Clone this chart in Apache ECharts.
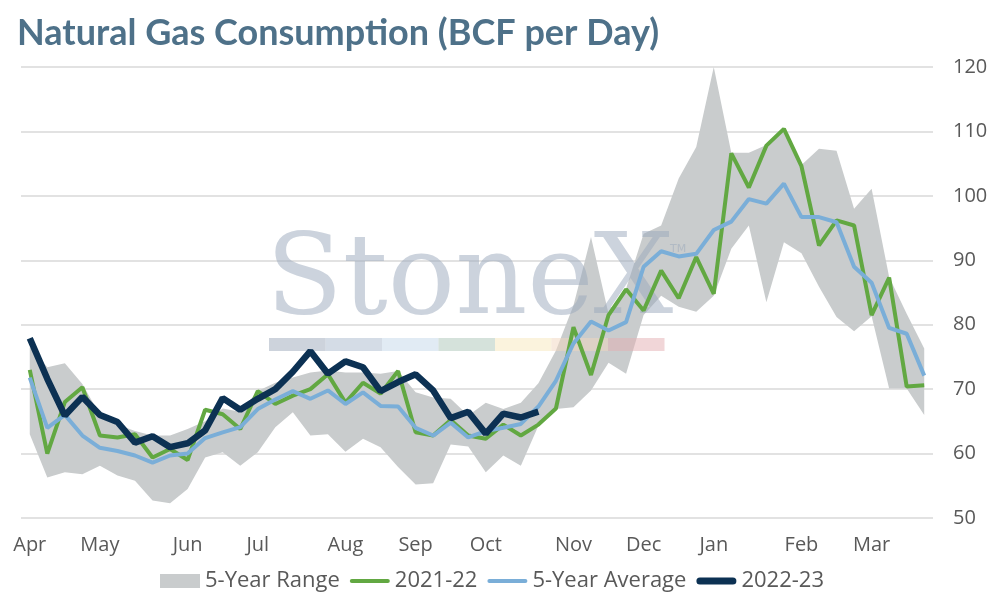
<!DOCTYPE html>
<html>
<head>
<meta charset="utf-8">
<title>Natural Gas Consumption</title>
<script src="https://cdn.jsdelivr.net/npm/echarts@6/dist/echarts.min.js"></script>
<style>
  html, body { margin: 0; padding: 0; background: #fff; }
  #chart { width: 994px; height: 600px; }
</style>
</head>
<body>
<div id="chart"></div>
<script>
// week ending dates, Apr 2022 - Mar 2023
const weeks = [
  '2022-04-03', '2022-04-10', '2022-04-17', '2022-04-24',
  '2022-05-01', '2022-05-08', '2022-05-15', '2022-05-22', '2022-05-29',
  '2022-06-05', '2022-06-12', '2022-06-19', '2022-06-26',
  '2022-07-03', '2022-07-10', '2022-07-17', '2022-07-24', '2022-07-31',
  '2022-08-07', '2022-08-14', '2022-08-21', '2022-08-28',
  '2022-09-04', '2022-09-11', '2022-09-18', '2022-09-25',
  '2022-10-02', '2022-10-09', '2022-10-16', '2022-10-23', '2022-10-30',
  '2022-11-06', '2022-11-13', '2022-11-20', '2022-11-27',
  '2022-12-04', '2022-12-11', '2022-12-18', '2022-12-25',
  '2023-01-01', '2023-01-08', '2023-01-15', '2023-01-22', '2023-01-29',
  '2023-02-05', '2023-02-12', '2023-02-19', '2023-02-26',
  '2023-03-05', '2023-03-12', '2023-03-19', '2023-03-26'
];
const monthNames = ['Jan', 'Feb', 'Mar', 'Apr', 'May', 'Jun', 'Jul', 'Aug', 'Sep', 'Oct', 'Nov', 'Dec'];

const rangeLow = [
  63.0, 56.3, 57.1, 56.8, 58.1, 56.6, 55.8, 52.7, 52.3, 54.5,
  59.4, 60.2, 58.1, 60.2, 64.1, 66.4, 62.8, 63.0, 60.3, 62.3,
  61.0, 57.9, 55.2, 55.4, 61.4, 61.1, 57.1, 59.7, 58.1, 64.3,
  66.9, 67.2, 69.8, 74.1, 72.4, 81.5, 84.5, 82.8, 82.0, 84.5,
  91.8, 95.4, 83.5, 92.8, 91.1, 85.9, 81.2, 79.0, 81.3, 70.1,
  70.1, 66.0
];
const rangeHigh = [
  76.5, 73.4, 74.0, 70.8, 66.0, 64.5, 63.5, 62.8, 62.8, 63.8,
  65.0, 67.0, 66.5, 69.7, 71.0, 71.8, 72.6, 72.9, 72.6, 72.6,
  72.4, 72.8, 69.5, 68.7, 68.5, 65.9, 67.9, 66.9, 67.9, 70.9,
  76.0, 83.0, 93.6, 81.7, 85.6, 94.1, 95.4, 102.7, 107.6, 120.0,
  106.7, 106.7, 107.9, 110.4, 104.8, 107.3, 107.0, 98.0, 101.1, 87.4,
  81.7, 76.3
];
const use2122 = [
  73.0, 60.0, 68.0, 70.3, 62.8, 62.5, 63.0, 59.4, 60.7, 59.0,
  66.8, 66.1, 63.8, 69.7, 67.7, 69.0, 70.0, 72.3, 67.9, 71.0,
  69.3, 72.8, 63.3, 62.8, 65.2, 62.8, 62.3, 64.5, 62.8, 64.5,
  67.0, 79.6, 72.2, 81.5, 85.5, 82.2, 88.4, 84.1, 90.5, 84.8,
  106.6, 101.3, 107.8, 110.4, 104.6, 92.3, 96.2, 95.4, 81.5, 87.3,
  70.4, 70.6
];
const avg5yr = [
  71.8, 64.0, 66.0, 62.8, 60.9, 60.4, 59.7, 58.6, 59.7, 60.0,
  62.4, 63.3, 64.1, 66.9, 68.4, 69.7, 68.5, 69.8, 67.7, 69.5,
  67.4, 67.3, 64.0, 62.8, 64.8, 62.5, 63.5, 64.0, 64.6, 67.3,
  71.3, 77.1, 80.5, 79.1, 80.4, 89.0, 91.4, 90.6, 91.0, 94.7,
  96.0, 99.5, 98.8, 101.9, 96.7, 96.7, 95.9, 89.0, 86.5, 79.5,
  78.6, 72.1
];
const use2223 = [
  77.9, 71.6, 65.9, 68.8, 66.0, 64.9, 61.7, 62.7, 61.0, 61.6,
  63.6, 68.6, 66.8, 68.5, 70.0, 72.7, 75.9, 72.4, 74.3, 73.4,
  69.7, 71.1, 72.3, 69.8, 65.5, 66.5, 63.1, 66.2, 65.6, 66.5
];

const grey = '#c9cccd';
const green = '#62a842';
const lightBlue = '#7aaed8';
const navy = '#0c3153';
const labelColor = '#595959';
const labelFont = 'Open Sans';

function monthOf(d) {
  return +d.slice(5, 7);
}

const rangeSpan = rangeHigh.map(function(v, i) {
  return +(v - rangeLow[i]).toFixed(1);
});

// legend swatches drawn as plain bars, like the source
const thinBar = 'path://M2,0H38A2,2,0,0,1,38,4H2A2,2,0,0,1,2,0Z';
const thickBar = 'path://M3.5,0H36.5A3.5,3.5,0,0,1,36.5,7H3.5A3.5,3.5,0,0,1,3.5,0Z';

// StoneX watermark bar colours
const barColors = [
  'rgba(155,167,185,0.5)', 'rgba(169,185,205,0.5)', 'rgba(195,215,233,0.5)',
  'rgba(171,197,183,0.5)', 'rgba(247,231,187,0.5)', 'rgba(241,213,189,0.5)',
  'rgba(227,173,177,0.5)'
];

const chart = echarts.init(document.getElementById('chart'));

const watermark = [{
  type: 'text',
  x: 266,
  y: 284,
  z: 2,
  silent: true,
  style: {
    text: 'StoneX',
    font: '112px "DejaVu Serif"',
    fill: 'rgba(153,167,187,0.5)',
    align: 'left',
    verticalAlign: 'middle'
  }
}, {
  type: 'text',
  x: 670,
  y: 249,
  z: 2,
  silent: true,
  style: {
    text: 'TM',
    font: '11px "DejaVu Sans"',
    fill: 'rgba(153,167,187,0.5)',
    align: 'left',
    verticalAlign: 'middle'
  }
}];
barColors.forEach(function(c, k) {
  watermark.push({
    type: 'rect',
    z: 2,
    silent: true,
    shape: { x: 269 + k * 56.5, y: 338, width: 56.5, height: 13 },
    style: { fill: c }
  });
});

chart.setOption({
  animation: false,
  backgroundColor: '#ffffff',
  textStyle: {
    fontFamily: labelFont
  },
  title: {
    text: 'Natural Gas Consumption (BCF per Day)',
    left: 17,
    top: 15,
    padding: 0,
    textStyle: {
      fontFamily: 'Lato',
      fontSize: 36,
      fontWeight: 'bold',
      color: '#4e7189'
    }
  },
  legend: {
    left: 155,
    top: 565,
    itemWidth: 40,
    itemHeight: 14,
    itemGap: 10,
    textStyle: {
      fontFamily: labelFont,
      fontSize: 22,
      color: labelColor
    },
    data: [
      { name: '5-Year Range', icon: 'rect' },
      { name: '2021-22', icon: thinBar },
      { name: '5-Year Average', icon: thinBar },
      { name: '2022-23', icon: thickBar }
    ]
  },
  graphic: watermark,
  grid: {
    left: 21,
    right: 61,
    top: 67,
    bottom: 82
  },
  xAxis: {
    type: 'category',
    boundaryGap: true,
    data: weeks,
    axisLine: { show: false },
    axisTick: { show: false },
    axisLabel: {
      interval: function(i) {
        return i === 0 || monthOf(weeks[i]) !== monthOf(weeks[i - 1]);
      },
      formatter: function(v) {
        return monthNames[monthOf(v) - 1];
      },
      margin: 17,
      fontFamily: labelFont,
      fontSize: 20,
      color: labelColor
    }
  },
  yAxis: {
    type: 'value',
    position: 'right',
    min: 50,
    max: 120,
    interval: 10,
    axisLine: { show: false },
    axisTick: { show: false },
    axisLabel: {
      margin: 20,
      fontFamily: labelFont,
      fontSize: 20,
      color: labelColor
    },
    splitLine: {
      lineStyle: { color: '#d9d9d9', width: 1.5 }
    }
  },
  series: [{
    name: 'rangeBase',
    type: 'line',
    stack: 'range',
    data: rangeLow,
    symbol: 'none',
    silent: true,
    lineStyle: { opacity: 0 },
    z: 1
  }, {
    name: '5-Year Range',
    type: 'line',
    stack: 'range',
    data: rangeSpan,
    symbol: 'none',
    lineStyle: { opacity: 0 },
    itemStyle: { color: grey },
    areaStyle: { color: grey, opacity: 1 },
    z: 1
  }, {
    name: '2021-22',
    type: 'line',
    data: use2122,
    symbol: 'none',
    itemStyle: { color: green },
    lineStyle: { color: green, width: 4 },
    z: 3
  }, {
    name: '5-Year Average',
    type: 'line',
    data: avg5yr,
    symbol: 'none',
    itemStyle: { color: lightBlue },
    lineStyle: { color: lightBlue, width: 4 },
    z: 3
  }, {
    name: '2022-23',
    type: 'line',
    data: use2223,
    symbol: 'none',
    itemStyle: { color: navy },
    lineStyle: { color: navy, width: 6.5 },
    z: 4
  }]
});
</script>
</body>
</html>
